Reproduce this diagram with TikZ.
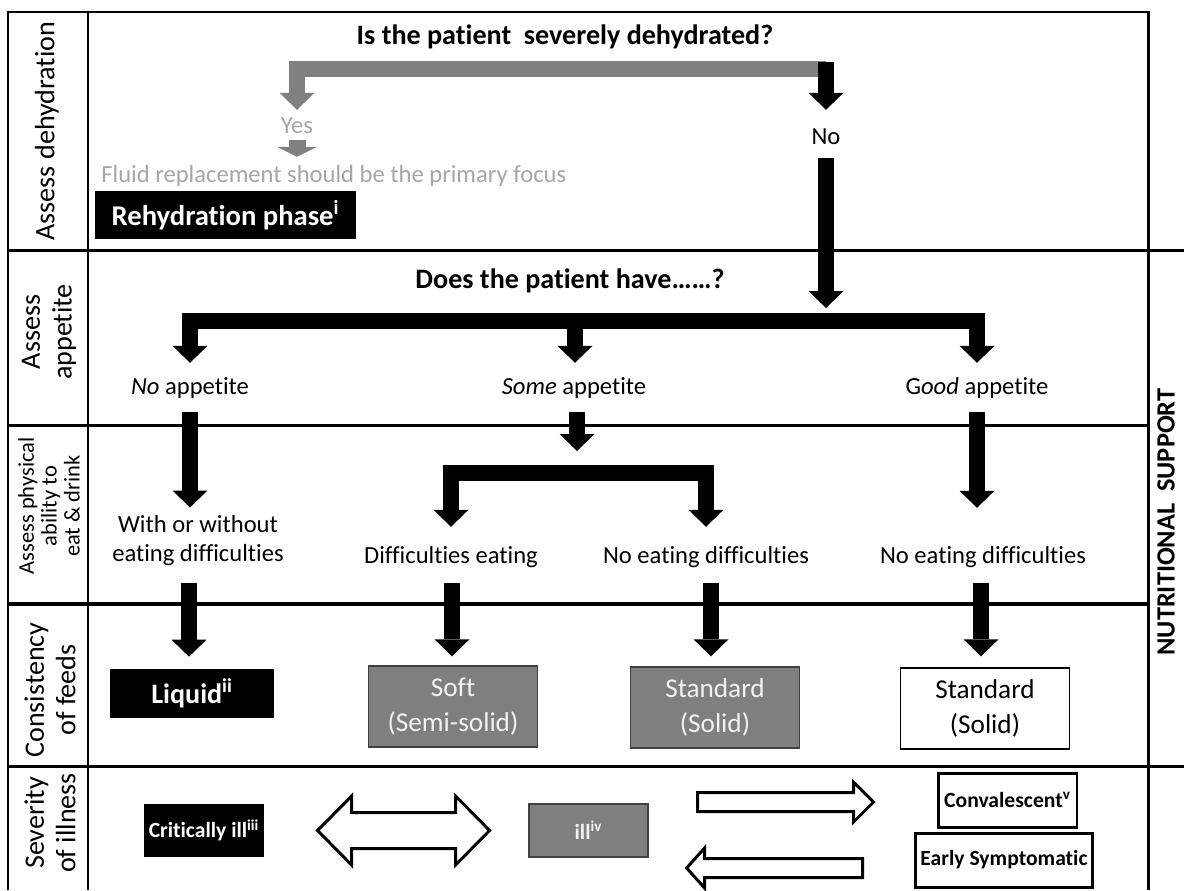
\documentclass[tikz,border=0pt]{standalone}
\usepackage{fontspec}
\setmainfont{Carlito}[Ligatures=NoCommon]
\usetikzlibrary{arrows.meta,calc}
\definecolor{arrowgrey}{HTML}{808080}
\definecolor{notegrey}{HTML}{A6A6A6}
\definecolor{feedgrey}{HTML}{7F7F7F}
\definecolor{feededge}{HTML}{404040}
\definecolor{feedtext}{HTML}{F2F2F2}

\begin{document}
\begin{tikzpicture}[x=0.02cm, y=-0.02cm,
    rule/.style={line width=1.7pt, line join=miter},
    fat/.style={line width=0.32cm, line join=miter,
      -{Triangle[width=0.7cm, length=0.34cm, line width=0pt]}},
    stub/.style={line width=0.34cm,
      -{Triangle[width=0.8cm, length=0.2cm, line width=0pt]}},
    hollow/.style={line width=1.7pt, line join=miter, fill=white},
    side/.style={rotate=90, align=center, inner sep=0pt, font=\fontsize{16}{18}\selectfont},
    ask/.style={inner sep=0pt, font=\bfseries\fontsize{16}{19}\selectfont},
    say/.style={inner sep=0pt, text height=10pt, text depth=3.5pt, font=\fontsize{14}{17}\selectfont},
    feed/.style={inner sep=0pt, align=center, minimum width=3.38cm, minimum height=1.62cm,
      font=\fontsize{15.5}{19.5}\selectfont},
    stage/.style={inner sep=0pt, minimum height=1.06cm, font=\bfseries\fontsize{12.3}{14}\selectfont}]
\useasboundingbox (0,0) rectangle (1184,890);

% frame and rows
\draw[rule] (8,890) -- (8,12) -- (1148,12) -- (1148,890);
\draw[rule] (88,12) -- (88,890);
\draw[rule] (8,250) -- (1184,250);
\draw[rule] (8,425) -- (1148,425);
\draw[rule, line width=2.4pt] (8,604) -- (1148,604);
\draw[rule] (8,766) -- (1184,766);

\node[side] (dehyd) at (47,131) {Assess dehydration};
\node[side] (appet) at (49,332) {Assess\\appetite};
\node[side, font=\fontsize{12.8}{13}\selectfont] (able) at (49,506) {Assess physical\\ability to\\eat \& drink};
\node[side] (feeds) at (50,690) {Consistency\\of feeds};
\node[side] (sever) at (50,823) {Severity\\of illness};
\node[rotate=90, inner sep=0pt, font=\bfseries\fontsize{15}{18}\selectfont] (nutri) at (1166,522) {NUTRITIONAL\ \ SUPPORT};

% dehydration
\node[ask] (q1) at (565,37) {Is the patient~ severely dehydrated?};
\coordinate (fork1) at (826,62);
\node[say, text=notegrey] (yes) at (297,128) {Yes};
\node[say, text=notegrey, anchor=west] (fluid) at (101,177) {Fluid replacement should be the primary focus};
\node[fill=black, text=white, inner sep=0pt, minimum width=5.22cm, minimum height=0.96cm,
  font=\bfseries\fontsize{16.3}{19}\selectfont] (rehyd) at (225.5,215) {Rehydration phase\textsuperscript{i}};
\node[say] (no) at (826,139) {No};

\draw[fat, arrowgrey] ($(fork1)+(0,6.5)$) -| ($(yes.north)+(0,-6)$);
\draw[fat] (fork1) -- ($(no.north)+(0,-17)$);
\draw[stub, arrowgrey] ($(yes.south)+(0,0)$) -- ($(yes.south |- fluid.north)+(0,-8)$);

% appetite
\node[ask] (q2) at (570,281) {Does the patient have……?};
\coordinate (fork2) at (575,321);
\node[say] (noapp) at (190,389) {\textit{No} appetite};
\node[say] (someapp) at (574,389) {\textit{Some} appetite};
\node[say] (goodapp) at (977,389) {G\textit{ood} appetite};

\draw[fat] ($(no.south)+(0,7)$) -- ($(no.south |- fork2)+(0,-13)$);
\draw[fat] (fork2) -| ($(noapp.north)+(0,-14)$);
\draw[fat] (fork2) -| ($(goodapp.north)+(0,-14)$);
\draw[fat] ($(fork2)+(0,-8)$) -- ($(fork2 |- someapp.north)+(0,-14)$);

% ability to eat
\node[inner sep=0pt, align=center, font=\fontsize{14}{16.5}\selectfont] (with) at (198,541) {With or without\\eating difficulties};
\coordinate (fork3) at (577,472.5);
\node[say] (diff) at (451,558) {Difficulties eating};
\node[say] (noeat1) at (706,558) {No eating difficulties};
\node[say] (noeat2) at (983,558) {No eating difficulties};

\draw[fat] ($(noapp.south)+(0,11)$) -- ($(noapp.south |- with.north)+(0,-8)$);
\draw[fat] ($(fork3 |- someapp.south)+(0,11)$) -- ($(fork3)+(0,-21.5)$);
\draw[fat] (fork3) -| ($(diff.north)+(0,-19)$);
\draw[fat] (fork3) -| ($(noeat1.north)+(0,-19)$);
\draw[fat] ($(goodapp.south)+(0,11)$) -- ($(goodapp.south |- noeat2.north)+(0,-38)$);

% feeds
\node[feed, fill=black, text=white, minimum width=3.3cm, minimum height=0.98cm,
  font=\bfseries\fontsize{16}{19}\selectfont] (liquid) at (192,693.5) {Liquid\textsuperscript{ii}};
\node[feed, fill=feedgrey, draw=feededge, text=feedtext, line width=0.8pt] (soft) at (453,706.5) {Soft\\(Semi-solid)};
\node[feed, fill=feedgrey, draw=feededge, text=feedtext, line width=0.8pt] (std1) at (715,707.5) {Standard\\(Solid)};
\node[feed, draw, fill=white, line width=0.8pt] (std2) at (985,708.5) {Standard\\(Solid)};

\draw[fat] ($(with.south -| liquid.north)+(-3,16)$) -- ($(liquid.north)+(-3,-12)$);
\draw[fat] ($(diff.south -| soft.north)+(-1,13)$) -- ($(soft.north)+(-1,-9)$);
\draw[fat] ($(noeat1.south -| std1.north)+(-4,13)$) -- ($(std1.north)+(-4,-10)$);
\draw[fat] ($(noeat2.south -| std2.north)+(-4,13)$) -- ($(std2.north)+(-4,-11)$);

% severity
\node[stage, fill=black, text=white, minimum width=2.42cm] (crit) at (204,830.5) {Critically ill\textsuperscript{iii}};
\node[stage, fill=feedgrey, draw=feededge, text=feedtext, line width=0.8pt, minimum width=2.38cm] (ill) at (588.5,830.5) {ill\textsuperscript{iv}};
\node[stage, draw, line width=1.7pt, minimum width=2.78cm, minimum height=1.08cm] (conv) at (1007.5,800) {Convalescent\textsuperscript{v}};
\node[stage, draw, line width=1.7pt, minimum width=3.56cm, minimum height=1.08cm] (early) at (1004,860) {Early Symptomatic};

\coordinate (swing) at ($(crit.east)!0.5!(ill.west)+(7,0)$);
\coordinate (up) at ($(ill.east |- conv.west)!0.5!(conv.west)$);
\coordinate (down) at ($(ill.east |- early.west)!0.5!(early.west)$);
\draw[hollow] (swing) ++(-86,0) -- ++(34,-34.5) -- ++(0,16.5) -- ++(104,0) -- ++(0,-16.5)
  -- ++(34,34.5) -- ++(-34,34.5) -- ++(0,-16.5) -- ++(-104,0) -- ++(0,16.5) -- cycle;
\draw[hollow] (up) ++(-95,-7.5) -- ++(156,0) -- ++(0,-10.5) -- ++(20,20) -- ++(-20,20)
  -- ++(0,-10.5) -- ++(-156,0) -- cycle;
\draw[hollow] (down) ++(-94.5,8) -- ++(18,-20) -- ++(0,10.5) -- ++(158,0) -- ++(0,19)
  -- ++(-158,0) -- ++(0,10.5) -- cycle;
\end{tikzpicture}
\end{document}
